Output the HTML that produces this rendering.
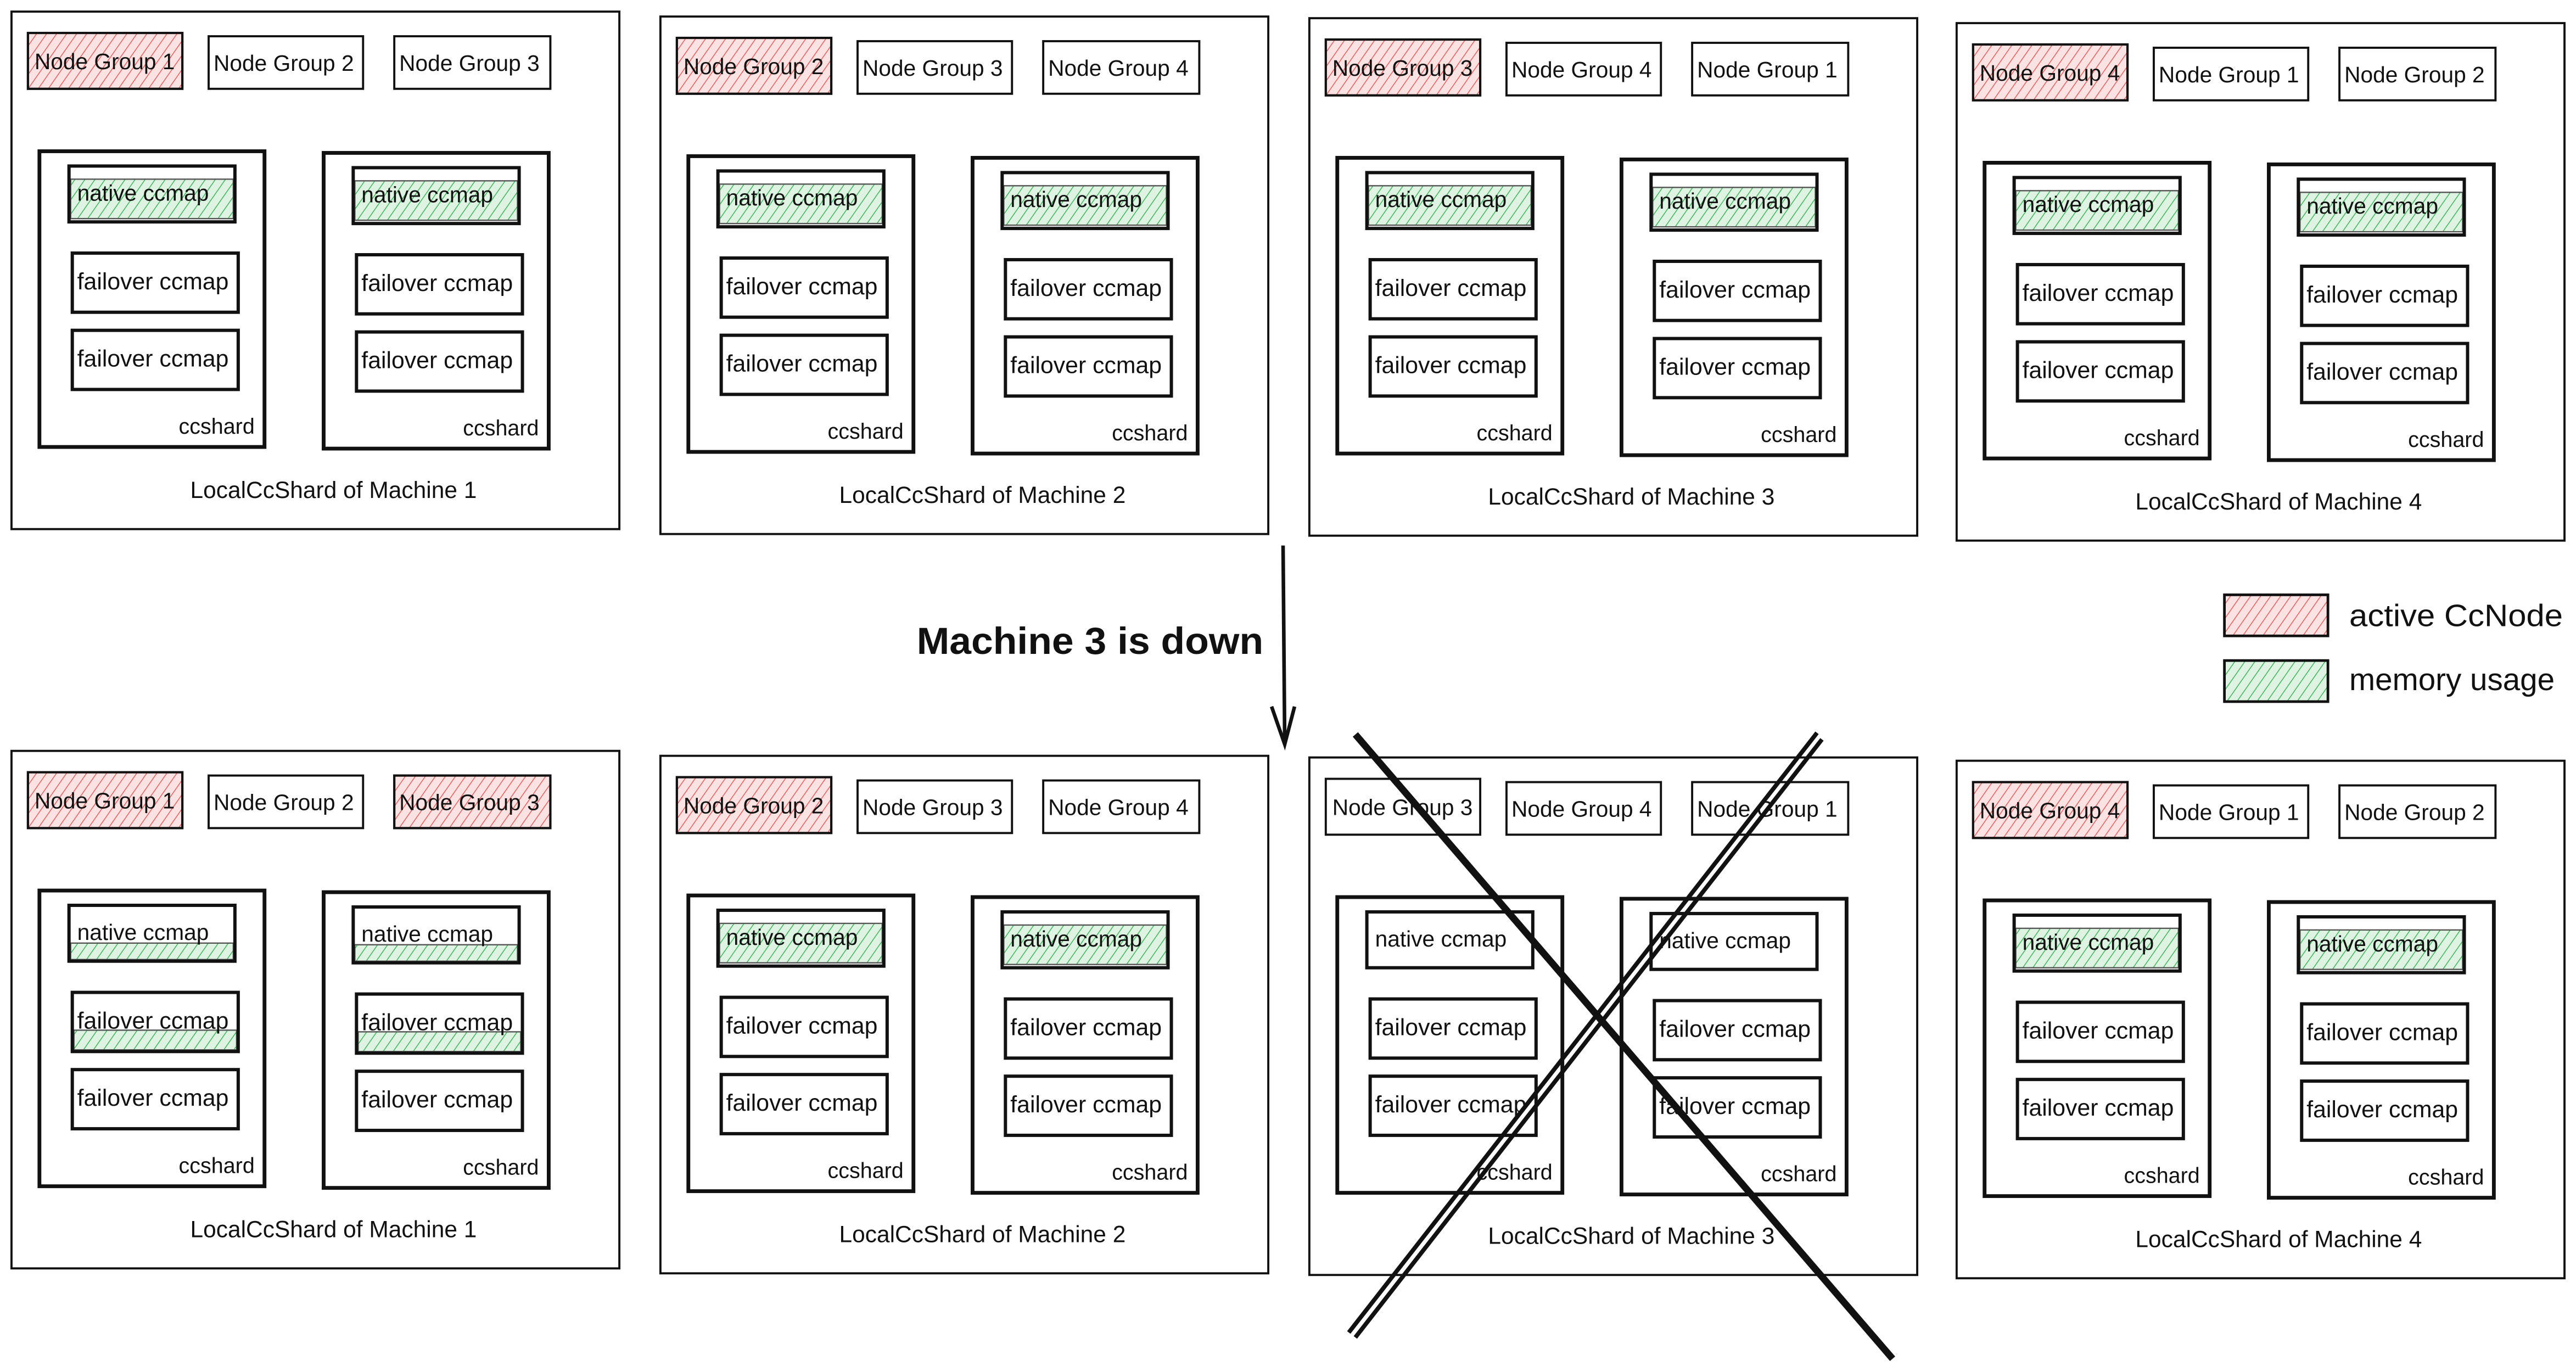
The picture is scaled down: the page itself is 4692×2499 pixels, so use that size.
<!DOCTYPE html>
<html><head><meta charset="utf-8"><style>
html,body{margin:0;padding:0;background:#fff;}
svg{display:block;}
text{font-family:"Liberation Sans",sans-serif;fill:#111;}
.o{fill:none;stroke:#111;stroke-width:1.3;}
.n{fill:#fff;stroke:#111;stroke-width:1.3;}
.r{fill:url(#red);stroke:#111;stroke-width:1.4;}
.i{fill:none;stroke:#111;stroke-width:2.3;}
.b{fill:none;stroke:#111;stroke-width:2;}
.g{fill:url(#grn);stroke:#555;stroke-width:0.8;}
.t{font-size:13.6px;}
.f{font-size:14.3px;}
.s{font-size:13.6px;}
.c{font-size:13.2px;text-anchor:end;}
.l{font-size:14.2px;text-anchor:middle;}
</style></head><body>
<svg width="4692" height="2499" viewBox="0 0 1568 835" xmlns="http://www.w3.org/2000/svg">
<defs>
<pattern id="red" width="5" height="5" patternUnits="userSpaceOnUse" patternTransform="rotate(35)">
<rect width="5" height="5" fill="#fbe3e3"/><line x1="0" y1="0" x2="0" y2="5" stroke="#e85b5b" stroke-width="1"/></pattern>
<pattern id="grn" width="5" height="5" patternUnits="userSpaceOnUse" patternTransform="rotate(35)">
<rect width="5" height="5" fill="#dff3e2"/><line x1="0" y1="0" x2="0" y2="5" stroke="#3cb55a" stroke-width="1"/></pattern>
</defs>

<!-- TOP M1 -->
<g transform="translate(7,7)">
<rect class="o" x="0" y="0" width="370" height="315"/>
<rect class="r" x="10" y="13" width="94" height="34"/><text class="t" x="14" y="35">Node Group 1</text>
<rect class="n" x="120" y="15" width="94" height="32"/><text class="t" x="123" y="36">Node Group 2</text>
<rect class="n" x="233" y="15" width="95" height="32"/><text class="t" x="236" y="36">Node Group 3</text>
<rect class="i" x="17" y="85" width="137" height="180"/><rect class="i" x="190" y="86" width="137" height="180"/>
<rect class="g" x="36" y="102" width="99" height="24"/><rect class="b" x="35" y="94" width="101" height="34"/><text class="s" x="40" y="115">native ccmap</text>
<rect class="b" x="37" y="147" width="101" height="36"/><text class="f" x="40" y="169">failover ccmap</text>
<rect class="b" x="37" y="194" width="101" height="36"/><text class="f" x="40" y="216">failover ccmap</text>
<text class="c" x="148" y="257">ccshard</text>
<rect class="g" x="209" y="103" width="99" height="24"/><rect class="b" x="208" y="95" width="101" height="34"/><text class="s" x="213" y="116">native ccmap</text>
<rect class="b" x="210" y="148" width="101" height="36"/><text class="f" x="213" y="170">failover ccmap</text>
<rect class="b" x="210" y="195" width="101" height="36"/><text class="f" x="213" y="217">failover ccmap</text>
<text class="c" x="321" y="258">ccshard</text>
<text class="l" x="196" y="296">LocalCcShard of Machine 1</text>
</g>

<!-- TOP M2 -->
<g transform="translate(402,10)">
<rect class="o" x="0" y="0" width="370" height="315"/>
<rect class="r" x="10" y="13" width="94" height="34"/><text class="t" x="14" y="35">Node Group 2</text>
<rect class="n" x="120" y="15" width="94" height="32"/><text class="t" x="123" y="36">Node Group 3</text>
<rect class="n" x="233" y="15" width="95" height="32"/><text class="t" x="236" y="36">Node Group 4</text>
<rect class="i" x="17" y="85" width="137" height="180"/><rect class="i" x="190" y="86" width="137" height="180"/>
<rect class="g" x="36" y="102" width="99" height="24"/><rect class="b" x="35" y="94" width="101" height="34"/><text class="s" x="40" y="115">native ccmap</text>
<rect class="b" x="37" y="147" width="101" height="36"/><text class="f" x="40" y="169">failover ccmap</text>
<rect class="b" x="37" y="194" width="101" height="36"/><text class="f" x="40" y="216">failover ccmap</text>
<text class="c" x="148" y="257">ccshard</text>
<rect class="g" x="209" y="103" width="99" height="24"/><rect class="b" x="208" y="95" width="101" height="34"/><text class="s" x="213" y="116">native ccmap</text>
<rect class="b" x="210" y="148" width="101" height="36"/><text class="f" x="213" y="170">failover ccmap</text>
<rect class="b" x="210" y="195" width="101" height="36"/><text class="f" x="213" y="217">failover ccmap</text>
<text class="c" x="321" y="258">ccshard</text>
<text class="l" x="196" y="296">LocalCcShard of Machine 2</text>
</g>

<!-- TOP M3 -->
<g transform="translate(797,11)">
<rect class="o" x="0" y="0" width="370" height="315"/>
<rect class="r" x="10" y="13" width="94" height="34"/><text class="t" x="14" y="35">Node Group 3</text>
<rect class="n" x="120" y="15" width="94" height="32"/><text class="t" x="123" y="36">Node Group 4</text>
<rect class="n" x="233" y="15" width="95" height="32"/><text class="t" x="236" y="36">Node Group 1</text>
<rect class="i" x="17" y="85" width="137" height="180"/><rect class="i" x="190" y="86" width="137" height="180"/>
<rect class="g" x="36" y="102" width="99" height="24"/><rect class="b" x="35" y="94" width="101" height="34"/><text class="s" x="40" y="115">native ccmap</text>
<rect class="b" x="37" y="147" width="101" height="36"/><text class="f" x="40" y="169">failover ccmap</text>
<rect class="b" x="37" y="194" width="101" height="36"/><text class="f" x="40" y="216">failover ccmap</text>
<text class="c" x="148" y="257">ccshard</text>
<rect class="g" x="209" y="103" width="99" height="24"/><rect class="b" x="208" y="95" width="101" height="34"/><text class="s" x="213" y="116">native ccmap</text>
<rect class="b" x="210" y="148" width="101" height="36"/><text class="f" x="213" y="170">failover ccmap</text>
<rect class="b" x="210" y="195" width="101" height="36"/><text class="f" x="213" y="217">failover ccmap</text>
<text class="c" x="321" y="258">ccshard</text>
<text class="l" x="196" y="296">LocalCcShard of Machine 3</text>
</g>

<!-- TOP M4 -->
<g transform="translate(1191,14)">
<rect class="o" x="0" y="0" width="370" height="315"/>
<rect class="r" x="10" y="13" width="94" height="34"/><text class="t" x="14" y="35">Node Group 4</text>
<rect class="n" x="120" y="15" width="94" height="32"/><text class="t" x="123" y="36">Node Group 1</text>
<rect class="n" x="233" y="15" width="95" height="32"/><text class="t" x="236" y="36">Node Group 2</text>
<rect class="i" x="17" y="85" width="137" height="180"/><rect class="i" x="190" y="86" width="137" height="180"/>
<rect class="g" x="36" y="102" width="99" height="24"/><rect class="b" x="35" y="94" width="101" height="34"/><text class="s" x="40" y="115">native ccmap</text>
<rect class="b" x="37" y="147" width="101" height="36"/><text class="f" x="40" y="169">failover ccmap</text>
<rect class="b" x="37" y="194" width="101" height="36"/><text class="f" x="40" y="216">failover ccmap</text>
<text class="c" x="148" y="257">ccshard</text>
<rect class="g" x="209" y="103" width="99" height="24"/><rect class="b" x="208" y="95" width="101" height="34"/><text class="s" x="213" y="116">native ccmap</text>
<rect class="b" x="210" y="148" width="101" height="36"/><text class="f" x="213" y="170">failover ccmap</text>
<rect class="b" x="210" y="195" width="101" height="36"/><text class="f" x="213" y="217">failover ccmap</text>
<text class="c" x="321" y="258">ccshard</text>
<text class="l" x="196" y="296">LocalCcShard of Machine 4</text>
</g>

<!-- BOTTOM M1 -->
<g transform="translate(7,457)">
<rect class="o" x="0" y="0" width="370" height="315"/>
<rect class="r" x="10" y="13" width="94" height="34"/><text class="t" x="14" y="35">Node Group 1</text>
<rect class="n" x="120" y="15" width="94" height="32"/><text class="t" x="123" y="36">Node Group 2</text>
<rect class="r" x="233" y="15" width="95" height="32"/><text class="t" x="236" y="36">Node Group 3</text>
<rect class="i" x="17" y="85" width="137" height="180"/><rect class="i" x="190" y="86" width="137" height="180"/>
<rect class="g" x="36" y="117" width="99" height="10"/><rect class="b" x="35" y="94" width="101" height="34"/><text class="s" x="40" y="115">native ccmap</text>
<rect class="g" x="38" y="170" width="99" height="12"/><rect class="b" x="37" y="147" width="101" height="36"/><text class="f" x="40" y="169">failover ccmap</text>
<rect class="b" x="37" y="194" width="101" height="36"/><text class="f" x="40" y="216">failover ccmap</text>
<text class="c" x="148" y="257">ccshard</text>
<rect class="g" x="209" y="118" width="99" height="10"/><rect class="b" x="208" y="95" width="101" height="34"/><text class="s" x="213" y="116">native ccmap</text>
<rect class="g" x="211" y="171" width="99" height="12"/><rect class="b" x="210" y="148" width="101" height="36"/><text class="f" x="213" y="170">failover ccmap</text>
<rect class="b" x="210" y="195" width="101" height="36"/><text class="f" x="213" y="217">failover ccmap</text>
<text class="c" x="321" y="258">ccshard</text>
<text class="l" x="196" y="296">LocalCcShard of Machine 1</text>
</g>

<!-- BOTTOM M2 -->
<g transform="translate(402,460)">
<rect class="o" x="0" y="0" width="370" height="315"/>
<rect class="r" x="10" y="13" width="94" height="34"/><text class="t" x="14" y="35">Node Group 2</text>
<rect class="n" x="120" y="15" width="94" height="32"/><text class="t" x="123" y="36">Node Group 3</text>
<rect class="n" x="233" y="15" width="95" height="32"/><text class="t" x="236" y="36">Node Group 4</text>
<rect class="i" x="17" y="85" width="137" height="180"/><rect class="i" x="190" y="86" width="137" height="180"/>
<rect class="g" x="36" y="102" width="99" height="24"/><rect class="b" x="35" y="94" width="101" height="34"/><text class="s" x="40" y="115">native ccmap</text>
<rect class="b" x="37" y="147" width="101" height="36"/><text class="f" x="40" y="169">failover ccmap</text>
<rect class="b" x="37" y="194" width="101" height="36"/><text class="f" x="40" y="216">failover ccmap</text>
<text class="c" x="148" y="257">ccshard</text>
<rect class="g" x="209" y="103" width="99" height="24"/><rect class="b" x="208" y="95" width="101" height="34"/><text class="s" x="213" y="116">native ccmap</text>
<rect class="b" x="210" y="148" width="101" height="36"/><text class="f" x="213" y="170">failover ccmap</text>
<rect class="b" x="210" y="195" width="101" height="36"/><text class="f" x="213" y="217">failover ccmap</text>
<text class="c" x="321" y="258">ccshard</text>
<text class="l" x="196" y="296">LocalCcShard of Machine 2</text>
</g>

<!-- BOTTOM M3 -->
<g transform="translate(797,461)">
<rect class="o" x="0" y="0" width="370" height="315"/>
<rect class="n" x="10" y="13" width="94" height="34"/><text class="t" x="14" y="35">Node Group 3</text>
<rect class="n" x="120" y="15" width="94" height="32"/><text class="t" x="123" y="36">Node Group 4</text>
<rect class="n" x="233" y="15" width="95" height="32"/><text class="t" x="236" y="36">Node Group 1</text>
<rect class="i" x="17" y="85" width="137" height="180"/><rect class="i" x="190" y="86" width="137" height="180"/>
<rect class="b" x="35" y="94" width="101" height="34"/><text class="s" x="40" y="115">native ccmap</text>
<rect class="b" x="37" y="147" width="101" height="36"/><text class="f" x="40" y="169">failover ccmap</text>
<rect class="b" x="37" y="194" width="101" height="36"/><text class="f" x="40" y="216">failover ccmap</text>
<text class="c" x="148" y="257">ccshard</text>
<rect class="b" x="208" y="95" width="101" height="34"/><text class="s" x="213" y="116">native ccmap</text>
<rect class="b" x="210" y="148" width="101" height="36"/><text class="f" x="213" y="170">failover ccmap</text>
<rect class="b" x="210" y="195" width="101" height="36"/><text class="f" x="213" y="217">failover ccmap</text>
<text class="c" x="321" y="258">ccshard</text>
<text class="l" x="196" y="296">LocalCcShard of Machine 3</text>
</g>

<!-- BOTTOM M4 -->
<g transform="translate(1191,463)">
<rect class="o" x="0" y="0" width="370" height="315"/>
<rect class="r" x="10" y="13" width="94" height="34"/><text class="t" x="14" y="35">Node Group 4</text>
<rect class="n" x="120" y="15" width="94" height="32"/><text class="t" x="123" y="36">Node Group 1</text>
<rect class="n" x="233" y="15" width="95" height="32"/><text class="t" x="236" y="36">Node Group 2</text>
<rect class="i" x="17" y="85" width="137" height="180"/><rect class="i" x="190" y="86" width="137" height="180"/>
<rect class="g" x="36" y="102" width="99" height="24"/><rect class="b" x="35" y="94" width="101" height="34"/><text class="s" x="40" y="115">native ccmap</text>
<rect class="b" x="37" y="147" width="101" height="36"/><text class="f" x="40" y="169">failover ccmap</text>
<rect class="b" x="37" y="194" width="101" height="36"/><text class="f" x="40" y="216">failover ccmap</text>
<text class="c" x="148" y="257">ccshard</text>
<rect class="g" x="209" y="103" width="99" height="24"/><rect class="b" x="208" y="95" width="101" height="34"/><text class="s" x="213" y="116">native ccmap</text>
<rect class="b" x="210" y="148" width="101" height="36"/><text class="f" x="213" y="170">failover ccmap</text>
<rect class="b" x="210" y="195" width="101" height="36"/><text class="f" x="213" y="217">failover ccmap</text>
<text class="c" x="321" y="258">ccshard</text>
<text class="l" x="196" y="296">LocalCcShard of Machine 4</text>
</g>

<!-- Arrow -->
<line x1="781" y1="332" x2="782" y2="452" stroke="#111" stroke-width="2.2"/>
<polyline points="774,430 782,453 788,430" fill="none" stroke="#111" stroke-width="2.2"/>
<text x="558" y="398" style="font-size:23px;font-weight:bold;" textLength="211" lengthAdjust="spacingAndGlyphs">Machine 3 is down</text>

<!-- Legend -->
<rect x="1354" y="362" width="63" height="25" fill="url(#red)" stroke="#111" stroke-width="1.6"/>
<text x="1430" y="381" style="font-size:19px;" textLength="130" lengthAdjust="spacingAndGlyphs">active CcNode</text>
<rect x="1354" y="402" width="63" height="25" fill="url(#grn)" stroke="#111" stroke-width="1.6"/>
<text x="1430" y="420" style="font-size:19px;" textLength="125" lengthAdjust="spacingAndGlyphs">memory usage</text>

<!-- X -->
<line x1="825" y1="447" x2="1152" y2="827" stroke="#111" stroke-width="4.2"/>
<line x1="821" y1="811" x2="1106" y2="446" stroke="#111" stroke-width="2.6"/>
<line x1="825" y1="814" x2="1109" y2="450" stroke="#111" stroke-width="2.6"/>
</svg>
</body></html>
